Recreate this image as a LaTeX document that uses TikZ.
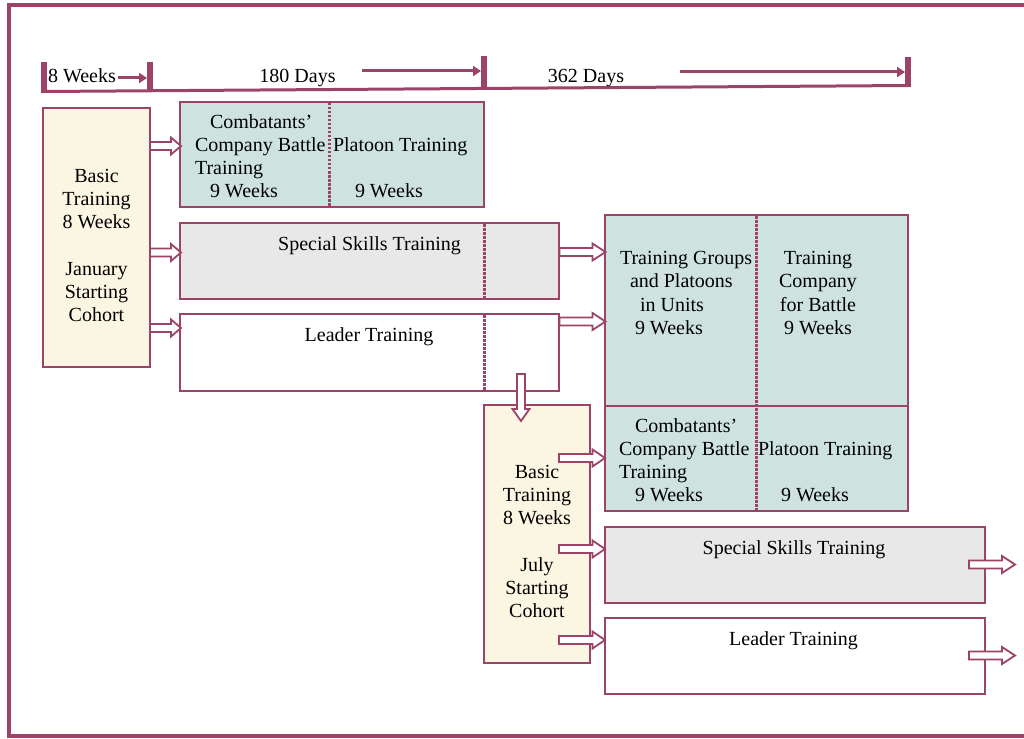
\documentclass[tikz,border=0pt]{standalone}
\usepackage{fontspec}
\setmainfont{Liberation Serif}
\usetikzlibrary{arrows.meta,calc}
\definecolor{maroon}{RGB}{156,67,104}
\definecolor{tealbg}{RGB}{206,227,223}
\definecolor{greybg}{RGB}{232,232,232}
\definecolor{creambg}{RGB}{251,246,225}
\newcommand\rarrow[4]{%
  \draw[barrow] (#1,#3-4) -- (#2-#4,#3-4) -- (#2-#4,#3-8.5) -- (#2,#3) -- (#2-#4,#3+8.5) -- (#2-#4,#3+4) -- (#1,#3+4) -- cycle;}
\newcommand\fst{\rule{0pt}{15pt}}
\begin{document}
\begin{tikzpicture}[x=1pt,y=-1pt,
  box/.style={draw=maroon, line width=1.8pt, anchor=north west, inner sep=0pt, outer sep=0pt},
  txt/.style={inner sep=0pt, outer sep=0pt, font=\fontsize{20}{23.3}\selectfont},
  divider/.style={draw=maroon, line width=3pt, dash pattern=on 2.5pt off 1.5pt},
  barrow/.style={draw=maroon, fill=white, line width=1.8pt, line join=miter},
  tick/.style={fill=maroon, inner sep=0pt, outer sep=0pt, minimum width=6pt},
  tl/.style={draw=maroon, line width=3pt, -{Triangle[length=8pt,width=10pt]}}]
\useasboundingbox (0,0) rectangle (1024,738);
% outer frame
\draw[maroon, line width=4pt] (1024,5.5) -- (8.5,5.5) -- (8.5,736) -- (1024,736);
% timeline
\node[tick, minimum height=31pt] (t1) at (44,77.5) {};
\node[tick, minimum height=29pt] (t2) at (150,76.5) {};
\node[tick, minimum height=31pt] (t3) at (484,71.5) {};
\node[tick, minimum height=30pt] (t4) at (908,72) {};
\draw[maroon, line width=3pt] ([yshift=1.5pt]t1.south) -- ([yshift=1.5pt]t4.south);
\node[txt, anchor=base west] (w8) at (48,83) {8 Weeks};
\node[txt, anchor=base] (d180) at (297.5,83) {180 Days};
\node[txt, anchor=base] (d362) at (586,83) {362 Days};
\coordinate (a8) at (118,78);
\coordinate (a180) at (362,71);
\coordinate (a362) at (680,72);
\draw[tl] (a8) -- (a8 -| t2.west);
\draw[tl] (a180) -- (a180 -| t3.west);
\draw[tl] (a362) -- (a362 -| t4.west);
% boxes
\node[box, fill=creambg, minimum width=107pt, minimum height=259pt] (jan) at (43,108) {};
\node[box, fill=tealbg, minimum width=304pt, minimum height=105pt] (cbt1) at (180,102) {};
\node[box, fill=greybg, minimum width=379pt, minimum height=76pt] (ss1) at (180,223) {};
\node[box, fill=white, minimum width=379pt, minimum height=77pt] (lt1) at (180,314) {};
\node[box, fill=tealbg, minimum width=303pt, minimum height=191pt] (tg) at (605,215) {};
\node[box, fill=tealbg, minimum width=303pt, minimum height=105pt] (cbt2) at (605,406) {};
\node[box, fill=creambg, minimum width=106pt, minimum height=258pt] (july) at (484,405) {};
\node[box, fill=greybg, minimum width=380pt, minimum height=76pt] (ss2) at (605,527) {};
\node[box, fill=white, minimum width=380pt, minimum height=76pt] (lt2) at (605,618) {};
% dividers
\draw[divider] (329,103) -- (329,206);
\draw[divider] (484,224) -- (484,298);
\draw[divider] (484,315) -- (484,390);
\draw[divider] (756,216) -- (756,510);
% texts
\node[txt, align=center, anchor=north] (jantxt) at (96.5,167) {\fst Basic\\Training\\8 Weeks\\\mbox{}\\January\\Starting\\Cohort};
\node[txt, align=center, anchor=north] (julytxt) at (537,463) {\fst Basic\\Training\\8 Weeks\\\mbox{}\\July\\Starting\\Cohort};
\node[txt, align=left, anchor=north west, font=\fontsize{20}{22.8}\selectfont] (cbt1l) at (195,113.7) {\fst\hspace{15pt}Combatants’\\Company Battle\\Training\\\hspace{15pt}9 Weeks};
\node[txt, align=left, anchor=north west, font=\fontsize{20}{22.8}\selectfont] (cbt1r) at (333,113.7) {\fst\\Platoon Training\\\mbox{}\\\hspace{22pt}9 Weeks};
\node[txt, anchor=base] (ss1txt) at (369.5,250) {Special Skills Training};
\node[txt, anchor=base] (lt1txt) at (369,341) {Leader Training};
\node[txt, align=left, anchor=north west, font=\fontsize{20}{23.6}\selectfont] (tgl) at (620,249) {\fst Training Groups\\\hspace{10pt}and Platoons\\\hspace{20pt}in Units\\\hspace{15pt}9 Weeks};
\node[txt, align=center, anchor=north, font=\fontsize{20}{23.6}\selectfont] (tgr) at (818,249) {\fst Training\\Company\\for Battle\\9 Weeks};
\node[txt, align=left, anchor=north west] (cbt2l) at (619,417) {\fst\hspace{16pt}Combatants’\\Company Battle\\Training\\\hspace{16pt}9 Weeks};
\node[txt, align=left, anchor=north west] (cbt2r) at (758,417) {\fst\\Platoon Training\\\mbox{}\\\hspace{23pt}9 Weeks};
\node[txt, anchor=base] (ss2txt) at (794,554) {Special Skills Training};
\node[txt, anchor=base] (lt2txt) at (793.5,645) {Leader Training};
% block arrows
\rarrow{150}{181}{146}{10}
\rarrow{150}{181}{252.5}{10}
\rarrow{150}{181}{328}{10}
\rarrow{559.5}{605.5}{252}{13}
\rarrow{559.5}{605.5}{321.5}{13}
\rarrow{559}{605}{458}{12.5}
\rarrow{559}{605}{549}{12.5}
\rarrow{559}{605}{640}{12.5}
\rarrow{969}{1015}{564.5}{13}
\rarrow{969}{1015}{655.5}{13}
\draw[barrow] (517,374) -- (517,409) -- (512.5,409) -- (521,421) -- (529.5,409) -- (525,409) -- (525,374) -- cycle;
\end{tikzpicture}
\end{document}
